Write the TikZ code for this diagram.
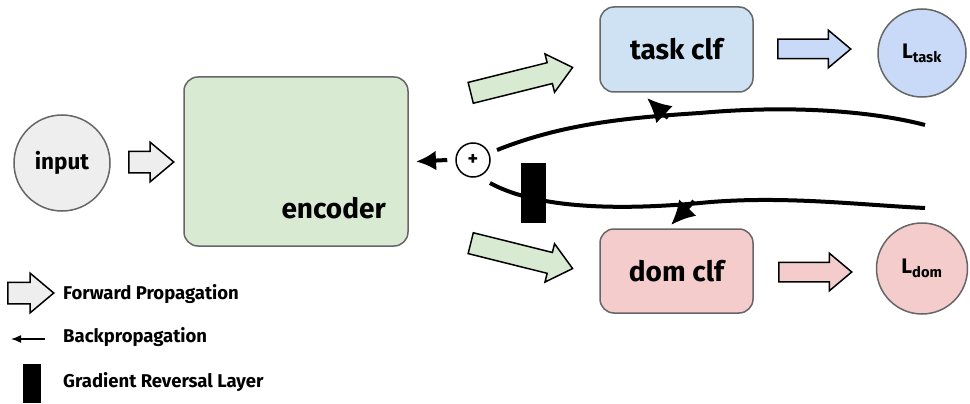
\documentclass[tikz,border=0pt]{standalone}
\usepackage{fontspec}
\setmainfont{Fira Sans}
\usepackage{tikz}
\usetikzlibrary{arrows.meta, positioning, shapes.arrows, calc}
\definecolor{InGray}{HTML}{EEEEEE}
\definecolor{EncGreen}{HTML}{D9EAD3}
\definecolor{TaskBlue}{HTML}{CFE2F3}
\definecolor{LossBlue}{HTML}{C9DAF8}
\definecolor{DomRed}{HTML}{F4CCCC}
\definecolor{EdgeGray}{HTML}{666666}

\begin{document}
\begin{tikzpicture}[
    x=1pt, y=-1pt,
    block/.style={rectangle, rounded corners=14pt, draw=EdgeGray, line width=1.5pt, font=\bfseries\fontsize{28}{32}\selectfont},
    loss/.style={circle, draw=EdgeGray, line width=1.5pt, minimum size=88pt, inner sep=0pt, font=\bfseries\fontsize{21}{24}\selectfont},
    fwd/.style={single arrow, anchor=tail, draw=black, line width=1.5pt, inner xsep=0pt, inner ysep=10pt, single arrow head extend=9pt, single arrow tip angle=80},
    back/.style={draw=black, line width=4pt},
    backhead/.style={back, -{Latex[length=24pt, width=24pt]}},
    legend/.style={anchor=west, inner xsep=0pt, font=\bfseries\fontsize{18.5}{22}\selectfont}
]
\useasboundingbox (0,0) rectangle (970,404);

% Nodes
\node[loss, fill=InGray, minimum size=96pt, font=\bfseries\fontsize{22.5}{26}\selectfont] (input) at (62,163) {input};
\node[block, fill=EncGreen, minimum width=224pt, minimum height=169pt] (enc) at (296,161.5) {};
\node[anchor=base east, inner xsep=0pt, font=\bfseries\fontsize{28}{32}\selectfont] (enclabel) at (386,218) {encoder};
\node[block, fill=TaskBlue, minimum width=153pt, minimum height=85pt] (task) at (676.5,49.5) {task clf};
\node[block, fill=DomRed, minimum width=153pt, minimum height=84pt] (dom) at (676.5,271) {dom clf};
\node[loss, fill=LossBlue] (ltask) at (922,53) {L\textsubscript{task}};
\node[loss, fill=DomRed, minimum size=91pt] (ldom) at (922,268.5) {L\textsubscript{dom}};
\node[circle, draw=black, line width=1.5pt, minimum size=34pt, inner sep=0pt, font=\bfseries\fontsize{20}{22}\selectfont] (plus) at (473,160) {+};
\node[fill=black, minimum width=25pt, minimum height=60pt, inner sep=0pt] (grl) at (533.5,193) {};

% Forward propagation
\node[fwd, fill=InGray, minimum height=45pt] (f1) at (128,162) {};
\node[fwd, fill=EncGreen, minimum height=105pt, rotate=14] (f2) at (470,93) {};
\node[fwd, fill=EncGreen, minimum height=105pt, rotate=-14] (f3) at (470,243) {};
\node[fwd, fill=LossBlue, inner ysep=9pt, minimum height=73pt] (f4) at (777,49) {};
\node[fwd, fill=DomRed, inner ysep=9pt, minimum height=73pt] (f5) at (778,272) {};

% Backpropagation
\coordinate (tend) at (925,125);
\coordinate (tstart) at ($(plus)+(24,-10)$);
\coordinate (tbr) at (668,118);
\coordinate (tin) at (647,98);
\coordinate (dend) at (925,208);
\coordinate (dstart) at ($(plus)+(17,23)$);
\coordinate (dbr) at (694,201);
\coordinate (din) at (671,225);
\coordinate (pout) at ($(plus.west)+(-8,0)$);
\draw[back] (tstart) .. controls (560,125) and (620,118) .. (700,113) .. controls (800,104) and (880,113) .. (tend);
\draw[backhead] (tbr) -- (tin);
\draw[back] (dstart) .. controls (530,205) and (600,212) .. (700,203) .. controls (780,195) and (860,205) .. (dend);
\draw[backhead] (dbr) -- (din);
\draw[back, -{Latex[length=20pt, width=20pt]}] (pout) -- (enc.east -| 416,0);

% Legend
\node[fwd, fill=InGray, minimum height=46pt] (kfwd) at (7,293) {};
\node[legend] (tfwd) at (63,294) {Forward Propagation};
\coordinate (kb1) at (45,339);
\coordinate (kb2) at (11,339);
\draw[line width=1.5pt, -{Latex[length=10pt, width=8pt]}] (kb1) -- (kb2);
\node[legend] (tback) at (63,337) {Backpropagation};
\node[fill=black, minimum width=18pt, minimum height=39pt, inner sep=0pt] (kgrl) at (32,383.5) {};
\node[legend] (tgrl) at (63,382) {Gradient Reversal Layer};

\end{tikzpicture}
\end{document}
